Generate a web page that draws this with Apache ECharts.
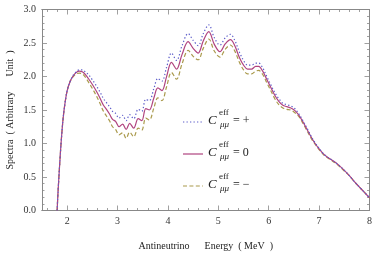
<!DOCTYPE html>
<html>
<head>
<meta charset="utf-8">
<script src="https://cdn.jsdelivr.net/npm/echarts@6/dist/echarts.min.js"></script>
<style>html,body{margin:0;padding:0;background:#fff}#c{width:374px;height:253px}</style>
</head>
<body>
<div id="c"></div>
<script>
var energy = [1.80,1.82,1.85,1.88,1.92,1.96,2.00,2.06,2.12,2.18,2.24,2.30,2.36,2.42,2.50,2.58,2.65,2.72,2.78,2.84,2.90,2.96,3.03,3.10,3.17,3.24,3.32,3.41,3.48,3.56,3.63,3.72,3.80,3.88,3.97,4.07,4.17,4.28,4.40,4.50,4.60,4.70,4.81,4.92,5.03,5.14,5.24,5.32,5.42,5.50,5.58,5.66,5.74,5.80,5.88,5.96,6.04,6.12,6.20,6.28,6.36,6.44,6.52,6.60,6.68,6.76,6.84,6.92,7.00,7.08,7.16,7.24,7.32,7.40,7.50,7.60,7.70,7.80,7.90,8.00];
var specZero = [0.00,0.30,0.68,1.02,1.38,1.62,1.79,1.93,2.01,2.06,2.08,2.07,2.03,1.97,1.88,1.78,1.68,1.57,1.51,1.44,1.36,1.33,1.25,1.29,1.21,1.30,1.23,1.37,1.34,1.52,1.50,1.68,1.83,1.79,1.99,2.21,2.11,2.33,2.52,2.42,2.35,2.53,2.67,2.48,2.37,2.49,2.55,2.47,2.28,2.17,2.11,2.11,2.15,2.15,2.08,1.96,1.84,1.72,1.63,1.57,1.55,1.53,1.49,1.42,1.32,1.21,1.10,1.00,0.92,0.85,0.80,0.76,0.72,0.67,0.60,0.52,0.43,0.35,0.27,0.19];
var specPlus = [0.00,0.30,0.68,1.02,1.38,1.62,1.79,1.93,2.02,2.07,2.10,2.10,2.07,2.03,1.95,1.86,1.77,1.67,1.61,1.55,1.48,1.45,1.38,1.42,1.34,1.43,1.37,1.51,1.48,1.66,1.64,1.82,1.97,1.93,2.13,2.35,2.24,2.46,2.64,2.54,2.46,2.64,2.77,2.58,2.47,2.58,2.63,2.55,2.36,2.24,2.17,2.17,2.20,2.20,2.13,2.00,1.88,1.76,1.67,1.60,1.58,1.56,1.52,1.44,1.34,1.23,1.11,1.01,0.93,0.85,0.80,0.76,0.72,0.67,0.60,0.52,0.43,0.35,0.27,0.19];
var specMinus = [0.00,0.30,0.68,1.02,1.38,1.62,1.79,1.93,2.00,2.04,2.05,2.04,1.99,1.92,1.82,1.71,1.60,1.48,1.41,1.34,1.25,1.21,1.13,1.16,1.08,1.17,1.10,1.23,1.20,1.38,1.35,1.53,1.68,1.64,1.84,2.06,1.96,2.19,2.39,2.30,2.25,2.42,2.56,2.38,2.29,2.41,2.47,2.39,2.21,2.10,2.04,2.04,2.08,2.09,2.03,1.91,1.79,1.67,1.58,1.53,1.51,1.50,1.46,1.40,1.30,1.19,1.08,0.99,0.91,0.84,0.79,0.75,0.71,0.66,0.59,0.52,0.43,0.35,0.27,0.19];
var xMajor = [2,3,4,5,6,7,8];
var xMinor = [1.6,1.8,2.2,2.4,2.6,2.8,3.2,3.4,3.6,3.8,4.2,4.4,4.6,4.8,5.2,5.4,5.6,5.8,6.2,6.4,6.6,6.8,7.2,7.4,7.6,7.8];
var legendNames = ['plus','zero','minus'];
var legendSigns = ['+','0','\u2212'];
var yTitle = 'Spectra  ( Arbitrary      Unit  )';
var xTitle = 'Antineutrino      Energy  ( MeV  )';

function pairs(ys){ return energy.map(function(x,i){ return [x, ys[i]]; }); }

var FONT = '"Liberation Serif", "DejaVu Serif", serif';
var FRAME = '#888';
var chart = echarts.init(document.getElementById('c'), null, {renderer:'canvas'});

function xAx(pos, ticks, len, labels, name){
  return {
    type:'value', min:1.5, max:8, position:pos, gridIndex:0,
    axisLine:{show:true, onZero:false, lineStyle:{color:FRAME, width:1}},
    axisTick:{show:true, inside:true, length:len, customValues:ticks, lineStyle:{color:FRAME, width:0.8}},
    axisLabel:{show:labels, customValues:xMajor, margin:6, fontFamily:FONT, fontSize:10, color:'#333'},
    splitLine:{show:false},
    name:name||'', nameLocation:'middle', nameGap:31,
    nameTextStyle:{fontFamily:FONT, fontSize:10, color:'#222'}
  };
}
function yAx(pos, labels){
  return {
    type:'value', min:0, max:3, interval:0.5, position:pos, gridIndex:0,
    axisLine:{show:true, onZero:false, lineStyle:{color:FRAME, width:1}},
    axisTick:{show:true, inside:true, length:5, lineStyle:{color:FRAME, width:0.8}},
    minorTick:{show:true, splitNumber:5, length:2.5, lineStyle:{color:FRAME, width:0.8}},
    axisLabel:{show:labels, margin:6, fontFamily:FONT, fontSize:10, color:'#333',
      formatter:function(v){return v.toFixed(1);}},
    splitLine:{show:false}
  };
}

var colors = ['#5c5cc9','#b0447f','#aa9a4c'];
var dashes = [[1.3,2.2],null,[4,2.4]];
var datas = [specPlus, specZero, specMinus];

var series = datas.map(function(d,i){
  return {
    name: legendNames[i], type:'line', xAxisIndex:0, yAxisIndex:0,
    data: pairs(d), showSymbol:false, symbol:'none', smooth:0.35,
    lineStyle:{color:colors[i], width:1.2, type:dashes[i] || 'solid'},
    itemStyle:{color:colors[i]}, z: 3 - i
  };
});

var graphics = [];
graphics.push({type:'text', x:10, y:110, rotation:Math.PI/2,
  style:{text:yTitle, font:'10px '+FONT, fill:'#222', textAlign:'center', textVerticalAlign:'middle'}});
var rowsY = [122, 154, 186];
rowsY.forEach(function(y,i){
  var ls = {stroke:colors[i], lineWidth:1.2};
  if (dashes[i]) ls.lineDash = dashes[i];
  graphics.push({type:'line', shape:{x1:183, y1:y, x2:203, y2:y}, style:ls});
  graphics.push({type:'text', left:208, top:y-8, style:{text:'C', font:'italic 13px '+FONT, fill:'#222'}});
  graphics.push({type:'text', left:219, top:y-14, style:{text:'eff', font:'9px '+FONT, fill:'#222'}});
  graphics.push({type:'text', left:220, top:y-2, style:{text:'\u03bc\u03bc', font:'italic 9px '+FONT, fill:'#222'}});
  graphics.push({type:'text', left:233, top:y-7, style:{text:'= '+legendSigns[i], font:'12px '+FONT, fill:'#222'}});
});

chart.setOption({
  animation:false,
  backgroundColor:'#fff',
  grid:{left:42, right:4.5, top:9.5, bottom:42.5, containLabel:false, outerBoundsMode:'none'},
  xAxis:[
    xAx('bottom', xMajor, 5, true, xTitle),
    xAx('bottom', xMinor, 2.5, false),
    xAx('top', xMajor, 5, false),
    xAx('top', xMinor, 2.5, false)
  ],
  yAxis:[
    yAx('left', true),
    yAx('right', false)
  ],
  series: series,
  graphic: graphics
});
</script>
</body>
</html>
